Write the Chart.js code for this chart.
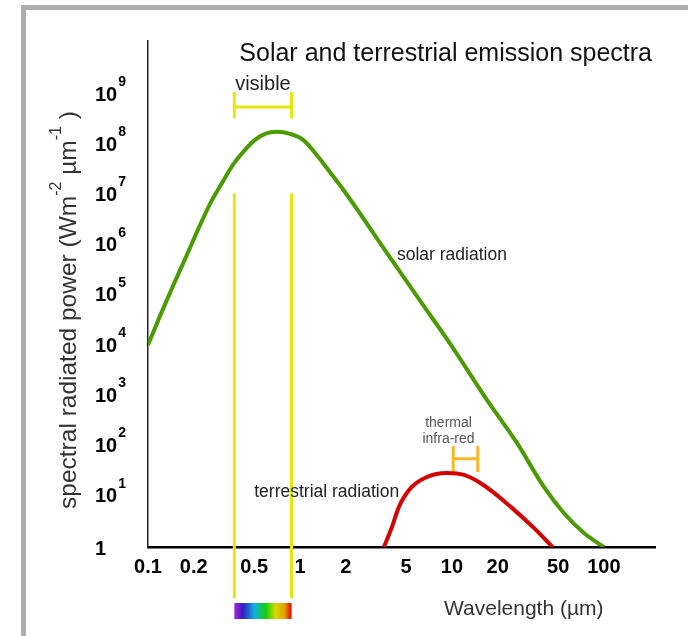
<!DOCTYPE html>
<html>
<head>
<meta charset="utf-8">
<title>Solar and terrestrial emission spectra</title>
<script src="https://cdn.jsdelivr.net/npm/chart.js@4.4.1/dist/chart.umd.min.js"></script>
<style>
  html, body { margin: 0; padding: 0; background: #fff; }
  #wrap { position: relative; width: 688px; height: 636px; overflow: hidden; }
  #frame {
    position: absolute; left: 21px; top: 5px; right: -10px; bottom: -10px;
    border-top: 5px solid #adadad; border-left: 5px solid #adadad;
  }
  #spectra { position: absolute; left: 0; top: 0; }
</style>
</head>
<body>
<div id="wrap">
  <div id="frame"></div>
  <canvas id="spectra" width="688" height="636"></canvas>
</div>
<script>
// Wavelength in um, spectral power in W m-2 um-1
const solarWavelength = [0.100, 0.120, 0.146, 0.178, 0.213, 0.256, 0.307, 0.362, 0.435, 0.506,
                         0.589, 0.706, 0.859, 1.05, 1.29, 1.57, 1.95, 3.73, 6.25, 9.85,
                         17.0, 26.8, 40.3, 54.5, 73.9, 100];
const solarPower = [1.05e4, 4.0e4, 1.58e5, 6.0e5, 2.07e6, 6.8e6, 1.78e7, 4.07e7, 8.1e7, 1.28e8,
                    1.69e8, 1.85e8, 1.69e8, 1.28e8, 6.4e7, 2.95e7, 1.24e7, 7.2e5, 7.6e4, 1.06e4,
                    848, 118, 15.7, 4.75, 1.9, 1];

const earthWavelength = [3.57, 4.03, 4.48, 5.37, 6.85, 9.27, 12.0, 16.2, 24.4, 34.6, 46];
const earthPower = [1, 2.5, 6.3, 15, 24.8, 29.8, 27.2, 17, 6.3, 2.4, 1];

// band edges (um)
const visibleBand = [0.37, 0.88];
const thermalBand = [10.2, 14.8];

const xTickValues = [0.1, 0.2, 0.5, 1, 2, 5, 10, 20, 50, 100];
const yTickExponents = [0, 1, 2, 3, 4, 5, 6, 7, 8, 9];

const FONT = '"Liberation Sans", Arial, Helvetica, sans-serif';

const toPoints = (xs, ys) => xs.map((x, i) => ({ x: x, y: ys[i] }));

// "H" shaped range marker, drawn as one polyline
function bracket(band, low, mid, high) {
    return [
        { x: band[0], y: high }, { x: band[0], y: low }, { x: band[0], y: mid },
        { x: band[1], y: mid }, { x: band[1], y: high }, { x: band[1], y: low }
    ];
}

function dropLine(x) {
    return [{ x: x, y: 1.1e7 }, { x: x, y: 0.095 }];
}

const straight = { pointRadius: 0, tension: 0, borderJoinStyle: 'bevel', clip: false };

const textPlugin = {
    id: 'spectraText',
    afterDatasetsDraw(chart) {
        const ctx = chart.ctx;
        const xs = chart.scales.x;
        const ys = chart.scales.y;
        const area = chart.chartArea;
        ctx.save();

        // colour strip under the visible band
        const x0 = xs.getPixelForValue(visibleBand[0]);
        const x1 = xs.getPixelForValue(visibleBand[1]);
        const grad = ctx.createLinearGradient(x0, 0, x1, 0);
        grad.addColorStop(0.0, '#b020e0');
        grad.addColorStop(0.15, '#3020c0');
        grad.addColorStop(0.35, '#10b0e0');
        grad.addColorStop(0.55, '#10d010');
        grad.addColorStop(0.72, '#d8d800');
        grad.addColorStop(0.88, '#e0a000');
        grad.addColorStop(1.0, '#e00000');
        ctx.fillStyle = grad;
        ctx.fillRect(x0, area.bottom + 56, x1 - x0, 16);

        // title
        ctx.fillStyle = '#111';
        ctx.textAlign = 'right';
        ctx.textBaseline = 'alphabetic';
        ctx.font = '25px ' + FONT;
        ctx.fillText('Solar and terrestrial emission spectra', area.right - 3, 61);

        // curve and band labels
        ctx.fillStyle = '#222';
        ctx.textAlign = 'center';
        ctx.font = '20px ' + FONT;
        ctx.fillText('visible', (x0 + x1) / 2, ys.getPixelForValue(1.15e9) - 2);

        ctx.textAlign = 'left';
        ctx.font = '17.5px ' + FONT;
        ctx.fillText('solar radiation', xs.getPixelForValue(4.35), ys.getPixelForValue(5.2e5));
        ctx.fillText('terrestrial radiation', xs.getPixelForValue(0.5), ys.getPixelForValue(10));

        ctx.fillStyle = '#555';
        ctx.textAlign = 'center';
        ctx.font = '14px ' + FONT;
        const tx = xs.getPixelForValue(9.5);
        ctx.fillText('thermal', tx, ys.getPixelForValue(246));
        ctx.fillText('infra-red', tx, ys.getPixelForValue(118));

        // x axis title
        ctx.fillStyle = '#333';
        ctx.textAlign = 'left';
        ctx.font = '21px ' + FONT;
        ctx.fillText('Wavelength (\u00b5m)', 444, area.bottom + 68);

        // y tick labels as powers of ten
        ctx.fillStyle = '#000';
        ctx.textBaseline = 'middle';
        yTickExponents.forEach(e => {
            const py = ys.getPixelForValue(Math.pow(10, e));
            ctx.font = 'bold 20px ' + FONT;
            if (e === 0) {
                ctx.fillText('1', 95, py + 2);
                return;
            }
            ctx.fillText('10', 95, py);
            const w = ctx.measureText('10').width;
            ctx.font = 'bold 14px ' + FONT;
            ctx.fillText(String(e), 95 + w + 1, py - 13);
        });

        // rotated y axis title with superscripts
        const parts = [
            ['spectral radiated power (Wm', false],
            ['-2', true],
            [' \u00b5m', false],
            ['-1', true],
            [' )', false]
        ];
        const mainFont = '24.5px ' + FONT;
        const supFont = '16px ' + FONT;
        let total = 0;
        parts.forEach(p => {
            ctx.font = p[1] ? supFont : mainFont;
            total += ctx.measureText(p[0]).width;
        });
        ctx.translate(76, 310);
        ctx.rotate(-Math.PI / 2);
        ctx.fillStyle = '#333';
        ctx.textBaseline = 'alphabetic';
        let cx = -total / 2;
        parts.forEach(p => {
            ctx.font = p[1] ? supFont : mainFont;
            ctx.fillText(p[0], cx, p[1] ? -15 : 0);
            cx += ctx.measureText(p[0]).width;
        });

        ctx.restore();
    }
};

new Chart(document.getElementById('spectra'), {
    type: 'line',
    data: {
        datasets: [
            {
                label: 'solar radiation',
                data: toPoints(solarWavelength, solarPower),
                borderColor: '#4b9a00',
                borderWidth: 4,
                pointRadius: 0,
                cubicInterpolationMode: 'monotone'
            },
            {
                label: 'terrestrial radiation',
                data: toPoints(earthWavelength, earthPower),
                borderColor: '#d40000',
                borderWidth: 4,
                pointRadius: 0,
                cubicInterpolationMode: 'monotone'
            },
            Object.assign({ label: 'visible', data: bracket(visibleBand, 3.4e8, 5.8e8, 1.15e9),
                            borderColor: '#e6e60a', borderWidth: 3 }, straight),
            Object.assign({ label: 'visible edge 1', data: dropLine(visibleBand[0]),
                            borderColor: '#e6e60a', borderWidth: 3 }, straight),
            Object.assign({ label: 'visible edge 2', data: dropLine(visibleBand[1]),
                            borderColor: '#e6e60a', borderWidth: 3 }, straight),
            Object.assign({ label: 'thermal infra-red', data: bracket(thermalBand, 31, 57, 103),
                            borderColor: '#ffb52a', borderWidth: 3 }, straight)
        ]
    },
    options: {
        responsive: false,
        animation: false,
        events: [],
        layout: { padding: { left: 28, top: 41, right: 33, bottom: 0 } },
        plugins: {
            legend: { display: false },
            tooltip: { enabled: false },
            title: { display: false }
        },
        scales: {
            x: {
                type: 'logarithmic',
                min: 0.1,
                max: 217,
                afterBuildTicks: s => { s.ticks = xTickValues.map(v => ({ value: v })); },
                afterFit: s => { s.height = 89; },
                grid: { display: false, drawTicks: false },
                border: { display: true, color: '#000', width: 2.5 },
                ticks: {
                    autoSkip: false,
                    maxRotation: 0,
                    padding: 8,
                    color: '#000',
                    font: { family: FONT, size: 20, weight: 'bold' },
                    callback: v => String(v)
                }
            },
            y: {
                type: 'logarithmic',
                min: 1,
                max: 1.19e10,
                afterFit: s => { s.width = 120; },
                grid: { display: false, drawTicks: false },
                border: { display: true, color: '#222', width: 1.5 },
                ticks: { display: false }
            }
        }
    },
    plugins: [textPlugin]
});
</script>
</body>
</html>
